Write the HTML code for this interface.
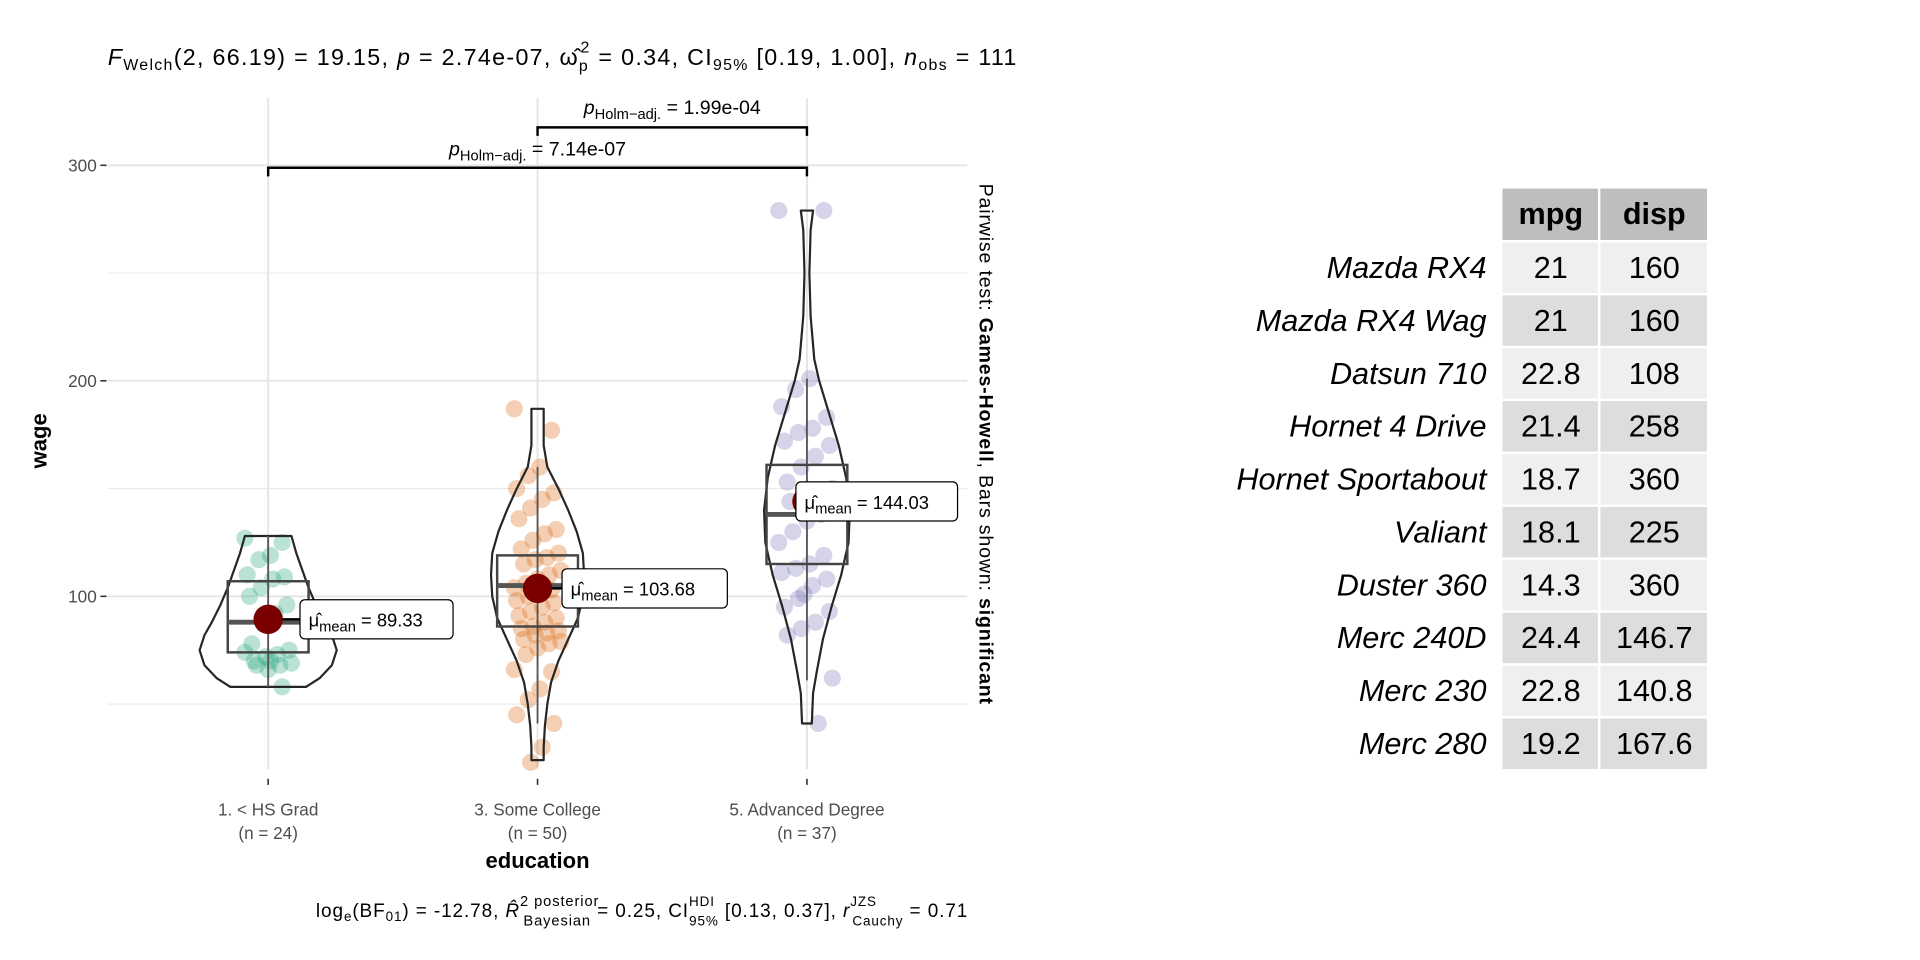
<!DOCTYPE html>
<html><head><meta charset="utf-8"><style>
html,body{margin:0;padding:0;background:#fff;}
svg{display:block;font-family:"Liberation Sans",sans-serif;}
</style></head><body>
<svg id="chart" width="1920" height="960" viewBox="0 0 1568 784" xmlns="http://www.w3.org/2000/svg">
<g id="plot"></g>
<g id="table"></g>
</svg>
<script>
const categories = ["1. < HS Grad", "3. Some College", "5. Advanced Degree"];
const counts = [24, 50, 37];
const yTicks = [100, 200, 300];
const means = [89.33, 103.68, 144.03];
const meanLabels = ["89.33", "103.68", "144.03"];
const boxQ1 = [74, 86, 115];
const boxMed = [88, 105, 138];
const boxQ3 = [107, 119, 161];
const whiskLo = [58, 41, 61];
const whiskHi = [128, 160, 201];
const g1 = [127,125,119,117,110,109,108,104,100,96,92,87,78,75,73,72,70,69,68,66,68,74,58,70];
const g2 = [187,177,160,156,150,148,145,141,136,131,129,126,122,120,118,117,115,112,110,108,106,104,103,101,100,98,97,95,93,91,90,88,86,85,84,83,82,80,79,78,76,73,66,65,57,52,45,41,30,23];
const g3 = [279,279,201,196,188,183,178,176,172,170,165,160,153,150,148,145,144,141,138,135,130,125,119,115,113,111,108,105,99,95,93,88,85,82,62,41,101];
const v1Levels = [58,62,68,75,82,88,96,104,112,120,128];
const v1Width = [31,42,52,56,52,46,39,33,28,23,19];
const v2Levels = [24,30,40,50,60,70,80,90,100,110,120,130,140,150,160,170,187];
const v2Width = [5,5,6,8,11,17,25,33,37,38,37,32,25,17,8,5,5];
const v3Levels = [41,55,65,80,95,110,125,140,155,170,185,200,210,230,250,270,279];
const v3Width = [4,5,8,13,20,28,34,35,32,26,18,10,6,3,2,3,5];
const rowNames = ["Mazda RX4","Mazda RX4 Wag","Datsun 710","Hornet 4 Drive","Hornet Sportabout","Valiant","Duster 360","Merc 240D","Merc 230","Merc 280"];
const mpg = ["21","21","22.8","21.4","18.7","18.1","14.3","24.4","22.8","19.2"];
const disp = ["160","160","108","258","360","225","360","146.7","140.8","167.6"];

const NS="http://www.w3.org/2000/svg";
const plot=document.getElementById('plot');
const tbl=document.getElementById('table');
function mk(tag,attrs,parent,text){const e=document.createElementNS(NS,tag);for(const k in attrs)e.setAttribute(k,attrs[k]);if(text!==undefined)e.textContent=text;parent.appendChild(e);return e;}
const y=v=>487-(v-100)*1.76;
const x=i=>219+i*220;
const colors=["#1b9e77","#d95f02","#7570b3"];

[50,150,250].forEach(v=>{const l=mk('line',{x1:88,x2:790,y1:y(v),y2:y(v),stroke:'#ebebeb','stroke-width':1},plot);});
yTicks.forEach(v=>{const l=mk('line',{x1:88,x2:790,y1:y(v),y2:y(v),stroke:'#e5e5e5','stroke-width':1.6},plot);
 const t=mk('line',{x1:82,x2:87,y1:y(v),y2:y(v),stroke:'#333','stroke-width':1.3},plot);
 const tx=mk('text',{x:79,y:y(v)+5,'text-anchor':'end','font-size':14,fill:'#4d4d4d'},plot,String(v));});
categories.forEach((c,i)=>{const l=mk('line',{x1:x(i),x2:x(i),y1:80,y2:628,stroke:'#e5e5e5','stroke-width':1.6},plot);
 const t=mk('line',{x1:x(i),x2:x(i),y1:636,y2:641,stroke:'#333','stroke-width':1.3},plot);
 const a=mk('text',{x:x(i),y:666,'text-anchor':'middle','font-size':14,fill:'#4d4d4d'},plot,c);
 const b=mk('text',{x:x(i),y:685,'text-anchor':'middle','font-size':14,fill:'#4d4d4d'},plot,'(n = '+counts[i]+')');});

[g1,g2,g3].forEach((g,gi)=>{g.forEach((v,i)=>{const dx=((i*37)%21-10)*(gi==2?2.3:1.9);const c=mk('circle',{cx:x(gi)+dx,cy:y(v),r:7,fill:colors[gi],'fill-opacity':0.3},plot);});});

[[v1Levels,v1Width],[v2Levels,v2Width],[v3Levels,v3Width]].forEach(([lv,w],gi)=>{let d='';lv.forEach((v,k)=>{d+=(k?'L':'M')+(x(gi)+w[k])+','+y(v);});for(let k=lv.length-1;k>=0;k--)d+='L'+(x(gi)-w[k])+','+y(lv[k]);d+='Z';
 const p=mk('path',{d:d,fill:'none',stroke:'#262626','stroke-width':1.8,'stroke-linejoin':'round'},plot);});

categories.forEach((c,i)=>{const bw=33;
 const w=mk('line',{x1:x(i),x2:x(i),y1:y(whiskLo[i]),y2:y(whiskHi[i]),stroke:'#555','stroke-width':1.5},plot);
 const r=mk('rect',{x:x(i)-bw,y:y(boxQ3[i]),width:bw*2,height:y(boxQ1[i])-y(boxQ3[i]),fill:'none',stroke:'#444','stroke-width':2},plot);
 const m=mk('line',{x1:x(i)-bw,x2:x(i)+bw,y1:y(boxMed[i]),y2:y(boxMed[i]),stroke:'#555','stroke-width':4},plot);});

const lblX=[245,459,650];const lblW=[125,135,132];
means.forEach((m,i)=>{const cy=y(m);
 const ly=mk('line',{x1:x(i),x2:lblX[i],y1:cy,y2:cy,stroke:'#000','stroke-width':2},plot);
 const c=mk('circle',{cx:x(i),cy:cy,r:12,fill:'#7a0000'},plot);
 const r=mk('rect',{x:lblX[i],y:cy-16,width:lblW[i],height:32,rx:4,fill:'#fff',stroke:'#000','stroke-width':1},plot);
 const t=mk('text',{x:lblX[i]+7,y:cy+6,'font-size':15,fill:'#000'},plot);
 mk('tspan',{},t,'μ̂');mk('tspan',{'font-size':12,dy:4},t,'mean');mk('tspan',{dy:-4},t,' = '+meanLabels[i]);});

function bracket(x1,x2,yy,lab,lx,ly){const p=mk('path',{d:`M${x1},${yy+7}L${x1},${yy}L${x2},${yy}L${x2},${yy+7}`,fill:'none',stroke:'#000','stroke-width':2},plot);
 const t=mk('text',{x:lx,y:ly,'text-anchor':'middle','font-size':16},plot);
 mk('tspan',{'font-style':'italic'},t,'p');mk('tspan',{'font-size':12,dy:4},t,'Holm−adj.');mk('tspan',{dy:-4},t,' = '+lab);}
bracket(x(1),x(2),104,'1.99e-04',549,93);
bracket(x(0),x(2),137,'7.14e-07',439,127);
</script>
<script>
(function(){
const NS="http://www.w3.org/2000/svg";const plot=document.getElementById('plot');
function mk(tag,attrs,parent,text){const e=document.createElementNS(NS,tag);for(const k in attrs)e.setAttribute(k,attrs[k]);if(text!==undefined)e.textContent=text;parent.appendChild(e);return e;}
let t=mk('text',{x:88,y:53,'font-size':19,textLength:742,lengthAdjust:'spacing'},plot);
[['F',{'font-style':'italic'}],['Welch',{'font-size':13,dy:4}],['(2, 66.19) = 19.15, ',{dy:-4}],['p',{'font-style':'italic'}],[' = 2.74e-07, ω̂',{}],['p',{'font-size':13,dy:5}],['2',{'font-size':13,dx:-7,dy:-15}],[' = 0.34, CI',{dy:10}],['95%',{'font-size':13,dy:4}],[' [0.19, 1.00], ',{dy:-4}],['n',{'font-style':'italic'}],['obs',{'font-size':13,dy:4}],[' = 111',{dy:-4}]].forEach(([s,a])=>mk('tspan',a,t,s));
t=mk('text',{x:258,y:749,'font-size':15.5,textLength:532,lengthAdjust:'spacing'},plot);
[['log',{}],['e',{'font-size':11,dy:3}],['(BF',{dy:-3}],['01',{'font-size':11,dy:3}],[') = -12.78, ',{dy:-3}],['R̂',{'font-style':'italic'}],['2 posterior',{'font-size':12,dy:-9}],['Bayesian',{'font-size':12,dx:-62,dy:16}],[' = 0.25, CI',{dy:-7}],['HDI',{'font-size':11,dy:-9}],['95%',{'font-size':11,dx:-21,dy:16}],[' [0.13, 0.37], ',{dy:-7}],['r',{'font-style':'italic'}],['JZS',{'font-size':11,dy:-9}],['Cauchy',{'font-size':11,dx:-20,dy:16}],[' = 0.71',{dy:-7}]].forEach(([s,a])=>mk('tspan',a,t,s));
t=mk('text',{x:439,y:709,'text-anchor':'middle','font-size':18,'font-weight':'bold'},plot,'education');
t=mk('text',{x:0,y:0,transform:'translate(38,360) rotate(-90)','text-anchor':'middle','font-size':18,'font-weight':'bold'},plot,'wage');
t=mk('text',{x:0,y:0,transform:'translate(800,150) rotate(90)','font-size':16,textLength:425,lengthAdjust:'spacing'},plot);
mk('tspan',{},t,'Pairwise test: ');mk('tspan',{'font-weight':'bold'},t,'Games-Howell');mk('tspan',{},t,', Bars shown: ');mk('tspan',{'font-weight':'bold'},t,'significant');
})();
</script>
<script>
(function(){
const NS="http://www.w3.org/2000/svg";const tbl=document.getElementById('table');
function mk(tag,attrs,parent,text){const e=document.createElementNS(NS,tag);for(const k in attrs)e.setAttribute(k,attrs[k]);if(text!==undefined)e.textContent=text;parent.appendChild(e);return e;}
const c1=1227,c2=1306,c3=1394,top=154,hh=42,rh=43.2,ry=198;
let r=mk('rect',{x:c1,y:top,width:c2-c1-1,height:hh,fill:'#bebebe'},tbl);
r=mk('rect',{x:c2+1,y:top,width:c3-c2-1,height:hh,fill:'#bebebe'},tbl);
let t=mk('text',{x:(c1+c2)/2,y:top+29,'text-anchor':'middle','font-size':25,'font-weight':'bold'},tbl,'mpg');
t=mk('text',{x:(c2+c3)/2+1,y:top+29,'text-anchor':'middle','font-size':25,'font-weight':'bold'},tbl,'disp');
rowNames.forEach((n,i)=>{const yy=ry+i*rh;const f=i%2?'#dddddd':'#efefef';
 r=mk('rect',{x:c1,y:yy,width:c2-c1-1,height:rh-2,fill:f},tbl);
 r=mk('rect',{x:c2+1,y:yy,width:c3-c2-1,height:rh-2,fill:f},tbl);
 t=mk('text',{x:1214,y:yy+29,'text-anchor':'end','font-size':25,'font-style':'italic'},tbl,n);
 t=mk('text',{x:(c1+c2)/2,y:yy+29,'text-anchor':'middle','font-size':25},tbl,mpg[i]);
 t=mk('text',{x:(c2+c3)/2+1,y:yy+29,'text-anchor':'middle','font-size':25},tbl,disp[i]);});
})();
</script>
</body></html>
